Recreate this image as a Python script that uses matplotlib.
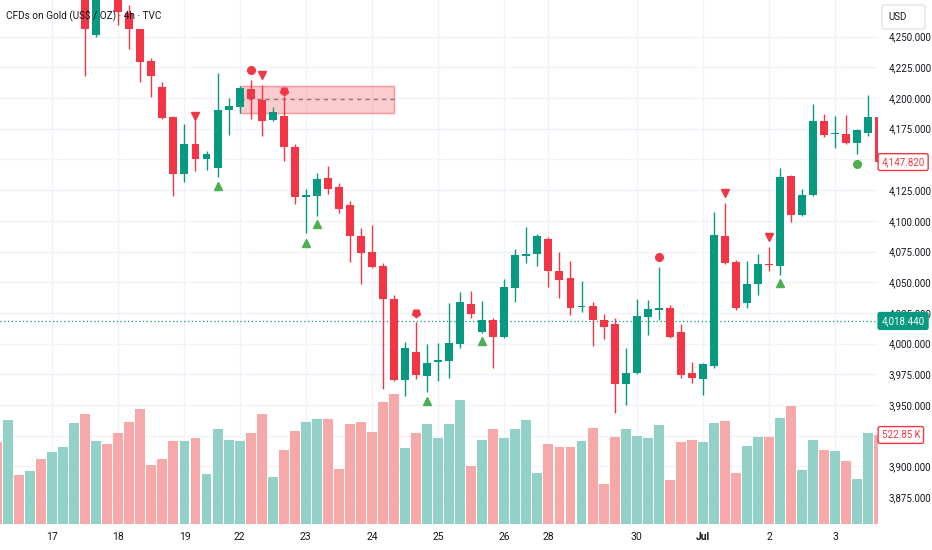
import numpy as np
import matplotlib
matplotlib.use('Agg')
import matplotlib.pyplot as plt
import matplotlib.transforms as mtransforms
from matplotlib.patches import Rectangle, FancyBboxPatch

plt.rcParams['font.family'] = ['Roboto', 'DejaVu Sans']

# 4h bars, index -1 is the half visible one at the left edge
bar_idx = np.arange(-1, 80)

opens = [4320, 4310, 4318, 4312, 4316, 4306, 4312, 4320, 4292, 4251.3,
         4298, 4290, 4269.2, 4256.2, 4230.1, 4209.0, 4184.5, 4138.1, 4162.5, 4150.3,
         4143.0, 4190.2, 4192.7, 4207.6, 4198.4, 4182.1, 4185.3, 4160.1, 4119.4, 4120.2,
         4134.9, 4127.5, 4112.9, 4087.6, 4074.6, 4063.2, 4036.3, 3970.4, 3993.2, 3973.6,
         3985.0, 3985.8, 3999.7, 4032.3, 4009.4, 4019.2, 4005.4, 4045.3, 4071.3, 4073.0,
         4085.2, 4059.1, 4053.4, 4029.8, 4030.6, 4019.2, 4016.0, 3967.1, 3976.1, 4021.7,
         4027.4, 4029.0, 4009.4, 3976.1, 3971.2, 3981.8, 4087.6, 4066.4, 4033.0, 4048.5,
         4064.8, 4063.2, 4136.5, 4104.7, 4121.0, 4181.3, 4170.7, 4170.7, 4163.4, 4171.5,
         4184.5]
highs = [4326, 4322, 4324, 4320, 4320, 4316, 4324, 4334, 4300, 4300,
         4312, 4296, 4275.7, 4256.5, 4232.6, 4213.0, 4185.3, 4178.8, 4182.1, 4156.8,
         4220.4, 4200.0, 4209.8, 4214.7, 4210.6, 4192.7, 4201.6, 4162.5, 4125.9, 4138.9,
         4144.6, 4130.8, 4116.1, 4094.1, 4096.6, 4065.6, 4039.6, 4001.3, 4017.6, 3999.7,
         4000.5, 4033.0, 4042.0, 4042.8, 4034.7, 4020.9, 4052.6, 4077.1, 4095.0, 4089.3,
         4086.8, 4074.6, 4067.3, 4051.0, 4033.9, 4024.1, 4020.9, 3996.4, 4036.3, 4035.5,
         4062.4, 4031.4, 4016.0, 3985.0, 3984.2, 4107.2, 4114.5, 4068.1, 4067.3, 4073.0,
         4078.7, 4143.0, 4137.3, 4125.9, 4195.1, 4187.0, 4185.3, 4186.2, 4174.8, 4202.4,
         4185.0]
lows = [4305, 4306, 4308, 4306, 4302, 4300, 4308, 4316, 4217.9, 4250.0,
        4285, 4259.4, 4239.9, 4213.0, 4200.8, 4183.3, 4120.2, 4131.6, 4140.6, 4141.4,
        4135.7, 4169.9, 4187.8, 4182.7, 4169.0, 4181.3, 4148.7, 4113.7, 4090.1, 4103.9,
        4121.8, 4106.4, 4066.4, 4048.5, 4061.6, 3963.0, 3969.6, 3957.3, 3971.2, 3960.6,
        3969.6, 3972.0, 3996.4, 4020.9, 4008.6, 3980.1, 4004.6, 4033.9, 4065.6, 4063.2,
        4046.1, 4037.1, 4023.3, 4025.7, 3998.1, 4003.8, 3943.5, 3950.0, 3975.2, 4007.0,
        4019.2, 4004.6, 3972.0, 3967.9, 3958.1, 3980.1, 4064.8, 4027.4, 4029.0, 4039.6,
        4059.1, 4055.9, 4099.0, 4103.9, 4120.2, 4168.2, 4159.3, 4162.5, 4154.4, 4169.0,
        4147.0]
closes = [4310, 4318, 4312, 4316, 4306, 4312, 4320, 4330, 4256.2, 4292,
          4290, 4270, 4256.2, 4229.3, 4217.9, 4183.7, 4138.1, 4162.5, 4150.3, 4154.4,
          4190.2, 4193.5, 4208.1, 4198.9, 4181.3, 4188.6, 4159.7, 4119.4, 4121.0, 4134.0,
          4125.9, 4109.6, 4087.6, 4073.8, 4062.4, 4036.3, 3970.4, 3996.4, 3974.4, 3984.2,
          3986.7, 4000.5, 4033.9, 4024.1, 4019.2, 4005.4, 4046.1, 4072.2, 4073.0, 4087.6,
          4059.1, 4051.8, 4029.0, 4030.6, 4019.2, 4013.5, 3967.1, 3976.1, 4022.5, 4028.2,
          4029.0, 4005.4, 3974.4, 3972.0, 3983.4, 4088.4, 4065.6, 4029.0, 4048.5, 4064.8,
          4063.6, 4135.7, 4104.7, 4121.0, 4181.3, 4169.9, 4171.5, 4163.4, 4173.9, 4184.5,
          4147.82]
# volume in thousands
volumes = [482, 611, 288, 311, 382, 423, 452, 593, 646, 488,
           470, 535, 599, 676, 347, 382, 488, 488, 505, 294,
           558, 494, 488, 535, 646, 276, 435, 546, 599, 617,
           617, 323, 588, 599, 541, 717, 764, 447, 535, 588,
           505, 588, 729, 341, 494, 558, 505, 558, 611, 300,
           470, 452, 452, 488, 564, 235, 511, 558, 517, 505,
           582, 259, 482, 494, 482, 593, 605, 300, 458, 511,
           511, 623, 693, 317, 494, 435, 429, 370, 264, 535,
           522.85]

day_ticks = [4, 10, 16, 21, 27, 33, 39, 45, 49, 57, 63, 69, 75]
day_labels = ['17', '18', '19', '22', '23', '24', '25', '26', '28', '30', 'Jul', '2', '3']
price_ticks = np.arange(3875, 4251, 25)
hidden_ticks = [4150, 3925]  # sit under the last price / volume tags

# signal markers
sell_x = [17, 23, 65, 69]
sell_y = [4185.3, 4218.7, 4122.6, 4086.8]
buy_x = [19, 27, 28, 38, 43, 70]
buy_y = [4128.3, 4081.9, 4097.4, 3953.3, 4002.1, 4049.3]
red_dot_x = [22, 59]
red_dot_y = [4222.8, 4070.5]
shield_x = [25, 37]
shield_y = [4206.0, 4025.0]
green_dot_x = [77]
green_dot_y = [4146.3]

zone_x0, zone_x1 = 21, 35
zone_lo, zone_hi, zone_mid = 4187.6, 4210.1, 4198.9
last_price = 4147.82
ref_price = 4018.44

up_col = '#089981'
dn_col = '#f23645'
vol_up = '#92d1c7'
vol_dn = '#f7a9aa'
txt_col = '#131722'

o = np.array(opens)
c = np.array(closes)
is_up = c >= o
cols = np.where(is_up, up_col, dn_col)
vcols = np.where(is_up, vol_up, vol_dn)

fig = plt.figure(figsize=(9.32, 5.5), dpi=100)
ax = fig.add_axes([0, 26 / 550, 878 / 932, 524 / 550])
ax.set_xlim(-0.725, 78.88)
ax.set_ylim(3853.1, 4279.8)

# volume as overlay at the bottom of the pane
vol_top = 3078.0
vtrans = mtransforms.blended_transform_factory(ax.transData, ax.transAxes)
ax.bar(bar_idx, np.array(volumes) / vol_top, width=0.9, bottom=0,
       color=vcols, transform=vtrans, zorder=1, linewidth=0)

# zone box
ax.add_patch(Rectangle((zone_x0, zone_lo), zone_x1 - zone_x0, zone_hi - zone_lo,
                       facecolor=(0.949, 0.212, 0.271, 0.25),
                       edgecolor=(0.949, 0.212, 0.271, 0.45), lw=1, zorder=2))
ax.hlines(zone_mid, zone_x0, zone_x1, colors='#8f7478', linestyles=(0, (3, 3)), lw=1, zorder=2.5)

ax.axhline(ref_price, color=up_col, ls=(0, (1, 2)), lw=0.9, zorder=2)

# candles
ax.vlines(bar_idx, lows, highs, colors=cols, lw=1, zorder=3)
body_h = np.maximum(np.abs(c - o), 0.7)
ax.bar(bar_idx, body_h, bottom=np.minimum(o, c), width=0.72, color=cols, zorder=4, linewidth=0)

# markers
ax.plot(sell_x, sell_y, 'v', color=dn_col, ms=5.5, zorder=5)
ax.plot(buy_x, buy_y, '^', color='#4caf50', ms=5.5, zorder=5)
ax.plot(red_dot_x, red_dot_y, 'o', color=dn_col, ms=5.5, zorder=5)
ax.plot(shield_x, shield_y, marker=(5, 0, 180), ls='', color=dn_col, ms=6, zorder=5)
ax.plot(green_dot_x, green_dot_y, 'o', color='#4caf50', ms=5.5, zorder=5)

ax.set_xticks(day_ticks, day_labels)
ax.yaxis.tick_right()
ax.set_yticks(price_ticks, ['' if p in hidden_ticks else f'{p:,.3f}' for p in price_ticks])
ax.tick_params(axis='x', length=0, pad=6, labelsize=7.5, labelcolor=txt_col)
ax.tick_params(axis='y', length=0, pad=7.5, labelsize=7, labelcolor=txt_col)
for lab in ax.get_xticklabels():
    if lab.get_text() == 'Jul':
        lab.set_fontweight('bold')
ax.grid(True, color='#f0f3fa', lw=1)
ax.set_axisbelow(True)
for s in ax.spines.values():
    s.set_visible(False)

# price labels on the axis
ytrans = mtransforms.blended_transform_factory(ax.transAxes, ax.transData)
tag = dict(boxstyle='round,pad=0.35,rounding_size=0.2', lw=1)
ax.text(1.004, last_price, f'{last_price:,.3f}', transform=ytrans, ha='left', va='center',
        fontsize=7, color=dn_col, zorder=10, clip_on=False,
        bbox=dict(fc='white', ec=dn_col, **tag))
ax.text(1.004, ref_price, f'{ref_price:,.3f}', transform=ytrans, ha='left', va='center',
        fontsize=7, color='white', zorder=10, clip_on=False,
        bbox=dict(fc=up_col, ec=up_col, **tag))
ax.text(1.004, volumes[-1] / vol_top, f'{volumes[-1]:.2f} K', transform=ax.transAxes,
        ha='left', va='center', fontsize=7, color=dn_col, zorder=10, clip_on=False,
        bbox=dict(fc='white', ec=dn_col, **tag))

fig.text(6 / 932, 1 - 15 / 550, 'CFDs on Gold (US$ / OZ) · 4h · TVC', ha='left', va='center',
         fontsize=7.2, color=txt_col)
fig.patches.append(FancyBboxPatch((882 / 932, 1 - 29 / 550), 43 / 932, 24 / 550,
                                  boxstyle='round,pad=0,rounding_size=0.004',
                                  transform=fig.transFigure, fc='white', ec='#e0e3eb', lw=1))
fig.text(888 / 932, 1 - 17 / 550, 'USD', ha='left', va='center', fontsize=7, color=txt_col)

fig.savefig('out.png', dpi=100)
